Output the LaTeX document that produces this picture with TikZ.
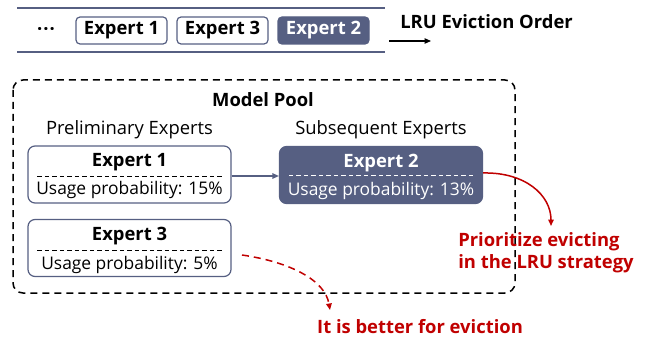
\documentclass[tikz,border=0pt]{standalone}
\usepackage{fontspec}
\setmainfont{Open Sans}
\usetikzlibrary{calc,arrows.meta}
\definecolor{slate}{HTML}{565F82}
\definecolor{evict}{HTML}{C00000}
\newcommand\poolfont{\fontsize{18.4}{22}\selectfont}
\newcommand\probfont{\fontsize{17.4}{21}\selectfont}

\begin{document}
\begin{tikzpicture}[x=1pt,y=-1pt,
    tag/.style={draw=slate, line width=1.2pt, rounded corners=4pt, minimum width=91pt, minimum height=27pt, inner sep=0pt, font=\poolfont\bfseries},
    expbox/.style={draw=slate, line width=1.2pt, rounded corners=7pt, minimum width=203pt, minimum height=57pt, inner sep=0pt},
    sep/.style={line width=0.9pt, dash pattern=on 4.5pt off 3pt},
    tip/.style={-{Triangle[length=6.5pt,width=5.5pt]}}]
      \useasboundingbox (0,0) rectangle (647,339);

      % LRU queue
      \draw [slate, line width=1.2pt] (17, 8) -- (385, 8);
      \draw [slate, line width=1.2pt] (17, 52) -- (385, 52);
      \node [font=\poolfont\bfseries] (dots) at (46, 31) {·\kern1pt·\kern1pt·};
      \node [tag] (q1) at (121.5, 30.5) {Expert 1};
      \node [tag] (q3) at (222.5, 30.5) {Expert 3};
      \node [tag, fill=slate, text=white] (q2) at (323.5, 30.5) {Expert 2};
      \coordinate (qa) at (389, 41);
      \coordinate (qb) at (431, 41);
      \draw [tip, line width=1.2pt] (qa) -- (qb);
      \node [font=\poolfont\bfseries] (order) at (486.5, 21.5) {LRU Eviction Order};

      % model pool
      \draw [dashed, line width=1.5pt, dash pattern=on 7pt off 5pt, rounded corners=10pt] (13, 80) rectangle (515, 293);
      \node [font=\poolfont\bfseries] (pool) at (263, 99.5) {Model Pool};
      \node [font=\poolfont] (pre) at (129.5, 129.5) {Preliminary Experts};
      \node [font=\poolfont] (sub) at (381, 129.5) {Subsequent Experts};

      \node [expbox] (e1) at (129.5, 174.5) {};
      \draw [sep] ($(e1.west)+(10,1.5)$) -- ($(e1.east)+(-10,1.5)$);
      \node [font=\poolfont\bfseries] (e1t) at (129.5, 162.5) {Expert 1};
      \node [font=\probfont] (e1u) at (129.5, 190) {Usage probability: 15\%};

      \node [expbox] (e3) at (129.5, 248) {};
      \draw [sep] ($(e3.west)+(10,2)$) -- ($(e3.east)+(-10,2)$);
      \node [font=\poolfont\bfseries] (e3t) at (129.5, 236.5) {Expert 3};
      \node [font=\probfont] (e3u) at (129.5, 264.5) {Usage probability: 5\%};

      \node [expbox, fill=slate] (e2) at (381, 175) {};
      \draw [sep, white] ($(e2.west)+(10,0)$) -- ($(e2.east)+(-10,0)$);
      \node [font=\poolfont\bfseries, text=white] (e2t) at (381, 163.5) {Expert 2};
      \node [font=\probfont, text=white] (e2u) at (381, 191) {Usage probability: 13\%};

      \draw [tip, slate, line width=1.2pt] (e1.east |- 0,176) -- (e2.west |- 0,176);

      % eviction notes
      \node [align=left, text=evict, font=\poolfont\bfseries] (prio) at (546, 252.5) {Prioritize evicting\\in the LRU strategy};
      \coordinate (pe) at (551, 226);
      \draw [tip, evict, line width=1.5pt] ($(e2.east)+(0,-2)$) .. controls (525, 172) and (551, 195) .. (pe);

      \node [text=evict, font=\poolfont\bfseries] (better) at (420, 326.5) {It is better for eviction};
      \coordinate (bs) at (242, 255);
      \coordinate (be) at (330, 310);
      \draw [tip, evict, dashed, dash pattern=on 7pt off 5pt, line width=1.5pt] (bs) .. controls (290, 262) and (325, 280) .. (be);
\end{tikzpicture}
\end{document}
